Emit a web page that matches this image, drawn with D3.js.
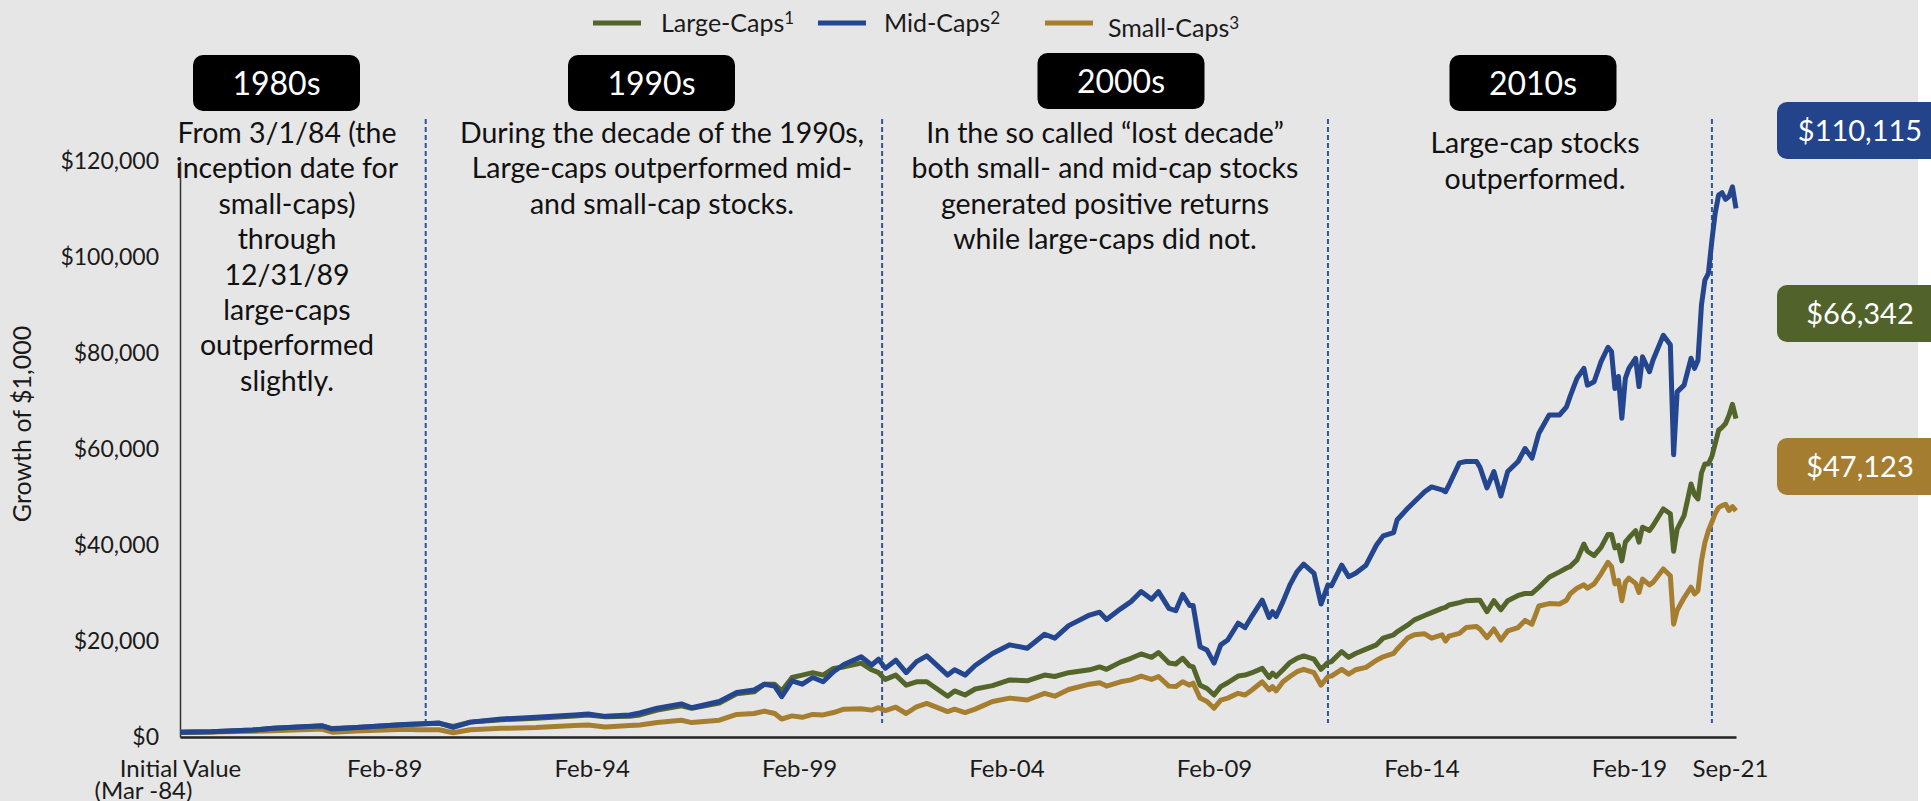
<!DOCTYPE html>
<html lang="en">
<head>
<meta charset="utf-8">
<title>Growth of $1,000</title>
<script src="https://d3js.org/d3.v7.min.js"></script>
<style>
  body { margin: 0; background: #fff; }
  svg { display: block; font-family: Lato, "Open Sans", sans-serif; }
  .axis text { font-family: Lato, sans-serif; fill: #1a1a1a; }
</style>
</head>
<body>
<script>
// growth of $1,000 (values in thousands of dollars)
var dates = ["1984-03","1984-12","1985-12","1986-06","1987-08","1987-11","1988-06","1989-08","1989-12",
  "1990-06","1990-10","1991-03","1991-12","1992-10","1993-09","1994-01","1994-06","1995-01","1995-04",
  "1995-09","1996-04","1996-07","1997-03","1997-08","1998-01","1998-04","1998-07","1998-09","1998-12",
  "1999-03","1999-06","1999-09","1999-12","2000-03","2000-08","2000-11","2001-01","2001-03","2001-06",
  "2001-09","2001-12","2002-03","2002-09","2002-11","2003-02","2003-05","2003-10","2004-03","2004-08",
  "2005-01","2005-04","2005-08","2006-02","2006-05","2006-07","2006-11","2007-02","2007-05","2007-08",
  "2007-10","2008-01","2008-03","2008-05","2008-07","2008-08","2008-10","2008-12","2009-02","2009-04",
  "2009-06","2009-09","2009-11","2010-01","2010-04","2010-06","2010-07","2010-08","2010-10","2010-12",
  "2011-02","2011-04","2011-07","2011-09","2011-11","2011-12","2012-03","2012-05","2012-07","2012-10",
  "2013-01","2013-03","2013-06","2013-07","2013-10","2013-12","2014-03","2014-05","2014-08","2014-09",
  "2014-10","2015-01","2015-03","2015-06","2015-07","2015-09","2015-11","2016-01","2016-03","2016-06",
  "2016-08","2016-10","2016-12","2017-03","2017-06","2017-08","2017-09","2017-11","2018-01","2018-02",
  "2018-04","2018-06","2018-08","2018-09","2018-10","2018-11","2018-12","2019-01","2019-02","2019-04",
  "2019-05","2019-06","2019-08","2019-09","2019-12","2020-02","2020-03","2020-04","2020-06","2020-08",
  "2020-09","2020-10","2020-11","2020-12","2021-01","2021-02","2021-03","2021-04","2021-05","2021-06",
  "2021-07","2021-08","2021-09"];

var largeCaps = [1.00,1.10,1.45,1.80,2.30,1.75,2.00,2.60,2.70,
  2.85,2.20,3.10,3.60,3.90,4.40,4.60,4.20,4.30,4.60,
  5.60,6.50,6.00,7.10,9.00,9.40,11.0,11.0,9.60,12.4,
  12.9,13.4,12.9,14.3,14.6,15.4,14.0,13.4,12.0,12.9,
  10.8,11.5,11.5,8.50,9.60,8.75,10.0,10.7,11.9,11.7,
  12.9,12.6,13.4,14.0,14.6,14.1,15.6,16.4,17.3,16.6,
  17.6,15.4,15.2,16.4,14.8,14.6,10.8,10.1,8.75,10.5,
  11.3,12.7,12.9,13.4,14.3,12.4,13.3,12.6,14.0,15.5,
  16.4,16.9,16.2,14.1,15.5,15.7,17.8,16.6,17.4,18.3,
  19.2,20.6,21.3,21.9,23.3,24.4,25.3,25.9,26.8,27.0,
  27.5,28.0,28.4,28.5,28.5,26.1,28.4,26.5,28.4,29.5,
  29.9,29.9,31.2,33.3,34.4,35.2,35.5,36.9,40.2,38.7,
  37.8,39.5,42.2,42.2,39.4,39.9,36.7,40.6,41.5,43.0,
  40.6,43.7,43.0,44.0,47.5,46.5,38.7,43.3,46.1,52.7,
  50.5,49.6,55.0,56.9,56.9,58.5,61.0,63.9,64.5,65.3,
  67.0,69.3,66.342];

var midCaps = [1.00,1.10,1.45,1.80,2.35,1.65,2.00,2.60,2.70,
  2.90,2.00,3.10,3.75,4.10,4.60,4.80,4.30,4.60,5.00,
  6.00,6.90,6.10,7.40,9.30,9.80,11.0,10.6,8.40,11.7,
  11.0,12.4,11.5,13.6,15.1,16.7,15.0,16.2,14.3,16.0,
  13.4,15.7,16.9,12.9,14.0,12.9,14.9,17.4,19.2,18.5,
  21.4,20.6,23.2,25.4,26.0,24.5,26.7,28.2,30.3,28.7,
  30.3,26.8,26.3,29.7,27.4,27.4,18.8,18.1,15.4,19.2,
  20.2,23.7,22.8,25.2,28.5,24.9,26.1,25.1,28.2,31.7,
  34.4,36.0,34.1,27.7,31.7,31.5,35.8,33.4,34.1,35.8,
  40.0,41.9,42.6,45.2,47.6,49.0,51.1,52.1,51.5,51.1,
  52.5,57.1,57.4,57.4,56.2,51.9,55.3,50.2,55.3,57.4,
  60.1,58.1,63.3,67.1,67.1,68.8,70.9,74.7,76.8,73.3,
  74.0,78.2,81.2,80.3,72.6,75.1,66.4,74.7,76.8,78.9,
  73.0,79.2,76.1,78.5,83.7,81.7,58.8,71.9,73.3,78.9,
  76.8,78.5,90.0,95.2,96.6,103.5,109.0,112.9,113.4,112.0,
  112.6,114.6,110.115];

var smallCaps = [1.00,1.05,1.20,1.30,1.65,1.00,1.25,1.60,1.50,
  1.50,0.90,1.50,1.80,2.00,2.40,2.50,2.10,2.40,2.50,
  3.00,3.50,3.00,3.50,4.70,4.90,5.40,4.90,3.75,4.40,
  4.10,4.70,4.60,5.10,5.80,5.90,5.60,6.10,5.50,6.20,
  4.90,6.30,7.00,5.30,5.80,5.10,5.80,7.40,8.10,7.70,
  9.10,8.50,9.90,11.0,11.3,10.6,11.5,11.9,12.7,12.0,
  12.6,10.6,10.5,11.5,10.8,11.2,8.10,7.40,6.00,7.70,
  8.10,9.10,8.75,9.80,11.5,9.80,10.5,9.60,11.5,12.6,
  13.6,14.1,13.4,10.8,12.6,12.7,14.1,13.1,14.0,14.5,
  16.0,16.7,17.4,18.3,20.6,21.3,21.5,20.6,21.3,20.0,
  21.0,21.6,22.8,23.0,22.5,20.7,22.5,20.2,22.1,22.8,
  24.3,23.5,27.3,27.8,27.7,28.5,29.8,31.0,31.7,31.0,
  31.9,34.0,36.4,35.5,31.9,32.6,28.4,32.2,33.1,32.0,
  30.1,32.9,31.7,32.2,35.0,33.6,23.5,26.4,29.0,31.2,
  29.8,30.5,36.7,40.5,43.0,44.8,46.5,47.8,48.2,48.5,
  47.2,48.0,47.123];

var seriesNames = ["Large-Caps", "Mid-Caps", "Small-Caps"];
var seriesNotes = ["1", "2", "3"];
var seriesColors = ["#53652a", "#24468f", "#a67e2f"];
var boxColors = ["#52622b", "#23448b", "#a57d30"];

var yTicks = [0, 20, 40, 60, 80, 100, 120];
var xTickDates = ["1984-03", "1989-02", "1994-02", "1999-02", "2004-02", "2009-02", "2014-02", "2019-02", "2021-09"];
var xTickLabels = ["Initial Value", "Feb-89", "Feb-94", "Feb-99", "Feb-04", "Feb-09", "Feb-14", "Feb-19", "Sep-21"];

var decades = ["1980s", "1990s", "2000s", "2010s"];
var decadeEnds = ["1990-02", "2001-02", "2011-11", "2021-02"];
var decadeNotes = [
  ["From 3/1/84 (the", "inception date for", "small-caps)", "through", "12/31/89", "large-caps", "outperformed", "slightly."],
  ["During the decade of the 1990s,", "Large-caps outperformed mid-", "and small-cap stocks."],
  ["In the so called \u201clost decade\u201d", "both small- and mid-cap stocks", "generated positive returns", "while large-caps did not."],
  ["Large-cap stocks", "outperformed."]
];

var w = 1931, h = 801;
var parse = d3.timeParse("%Y-%m");

var x = d3.scaleTime()
  .domain([parse("1984-03"), parse("2021-09")])
  .range([180, 1736]);
var y = d3.scaleLinear()
  .domain([0, 120])
  .range([737, 161]);

var svg = d3.select("body").append("svg")
  .attr("width", w)
  .attr("height", h);

svg.append("rect")
  .attr("width", 1918)
  .attr("height", h)
  .attr("fill", "#e6e6e6");

// legend
var legendSwatch = [593, 818, 1045], legendText = [661, 884, 1108], legendDy = [0, 0, 5];
var legend = svg.append("g");
seriesNames.forEach(function(name, i) {
  legend.append("line")
    .attr("x1", legendSwatch[i]).attr("x2", legendSwatch[i] + 48)
    .attr("y1", 23).attr("y2", 23)
    .attr("stroke", seriesColors[i])
    .attr("stroke-width", 5);
  var t = legend.append("text")
    .attr("x", legendText[i])
    .attr("y", 23 + legendDy[i])
    .attr("dy", "0.35em")
    .attr("font-size", 25)
    .attr("fill", "#1a1a1a")
    .text(name);
  t.append("tspan")
    .attr("dy", "-0.45em")
    .attr("font-size", 17)
    .text(seriesNotes[i]);
});

// decade boxes and notes
var boxCx = [276.5, 651.5, 1121, 1533], boxY = [55, 55, 53, 55];
var noteCx = [287, 662, 1105, 1535], noteY = [133, 133, 133, 143.5];
decades.forEach(function(d, i) {
  svg.append("rect")
    .attr("x", boxCx[i] - 83.5).attr("y", boxY[i])
    .attr("width", 167).attr("height", 56)
    .attr("rx", 10)
    .attr("fill", "#000");
  svg.append("text")
    .attr("x", boxCx[i]).attr("y", boxY[i] + 29)
    .attr("dy", "0.35em")
    .attr("text-anchor", "middle")
    .attr("font-size", 32)
    .attr("fill", "#fff")
    .text(d);
  svg.append("g").selectAll("text")
    .data(decadeNotes[i])
    .enter().append("text")
      .attr("x", noteCx[i])
      .attr("y", function(t, j) { return noteY[i] + j * 35.4; })
      .attr("dy", "0.35em")
      .attr("text-anchor", "middle")
      .attr("font-size", 28.5)
      .attr("fill", "#111")
      .text(function(t) { return t; });
});

// decade dividers
svg.append("g").selectAll("line")
  .data(decadeEnds)
  .enter().append("line")
    .attr("x1", function(d) { return x(parse(d)); })
    .attr("x2", function(d) { return x(parse(d)); })
    .attr("y1", 119).attr("y2", 723)
    .attr("stroke", "#2f55a0")
    .attr("stroke-width", 2)
    .attr("stroke-dasharray", "5,3");

// axes
var xAxis = d3.axisBottom(x)
  .tickValues(xTickDates.map(parse))
  .tickSize(0).tickSizeOuter(0).tickPadding(23)
  .tickFormat(function(d, i) { return xTickLabels[i]; });
var yAxis = d3.axisLeft(y)
  .tickValues(yTicks)
  .tickSize(0).tickSizeOuter(0).tickPadding(21)
  .tickFormat(function(d) { return "$" + d3.format(",")(d * 1000); });

var gx = svg.append("g")
  .attr("class", "x axis")
  .attr("transform", "translate(0," + y(0) + ")")
  .call(xAxis);
gx.select(".domain").attr("stroke", "#222").attr("stroke-width", 2.5);
gx.selectAll("text").attr("font-size", 24);
gx.selectAll(".tick:last-of-type text").attr("dx", -6);
gx.select(".tick text")
  .append("tspan")
    .attr("x", -37).attr("dy", "0.9em")
    .text("(Mar -84)");

var gy = svg.append("g")
  .attr("class", "y axis")
  .attr("transform", "translate(180,0)")
  .call(yAxis);
gy.select(".domain").attr("stroke", "#333").attr("stroke-width", 1.5);
gy.selectAll("text").attr("font-size", 23);

svg.append("text")
  .attr("transform", "translate(22,424) rotate(-90)")
  .attr("dy", "0.35em")
  .attr("text-anchor", "middle")
  .attr("font-size", 25)
  .attr("fill", "#1a1a1a")
  .text("Growth of $1,000");

// lines (small, large, then mid on top)
var series = [largeCaps, midCaps, smallCaps];
var line = d3.line()
  .x(function(d) { return x(d.date); })
  .y(function(d) { return y(d.v); });
[2, 0, 1].forEach(function(i) {
  var pts = dates.map(function(dt, k) { return {date: parse(dt), v: series[i][k]}; });
  svg.append("path")
    .datum(pts)
    .attr("fill", "none")
    .attr("stroke", seriesColors[i])
    .attr("stroke-width", 5)
    .attr("stroke-linejoin", "round")
    .attr("d", line);
});

// ending value boxes
var endBoxY = [102, 285, 438];
[1, 0, 2].forEach(function(i, k) {
  var last = series[i][series[i].length - 1];
  svg.append("rect")
    .attr("x", 1777).attr("y", endBoxY[k])
    .attr("width", 180).attr("height", 57)
    .attr("rx", 10)
    .attr("fill", boxColors[i]);
  svg.append("text")
    .attr("x", 1860).attr("y", endBoxY[k] + 29)
    .attr("dy", "0.35em")
    .attr("text-anchor", "middle")
    .attr("font-size", 29)
    .attr("fill", "#fff")
    .text("$" + d3.format(",")(Math.round(last * 1000)));
});
</script>
</body>
</html>
